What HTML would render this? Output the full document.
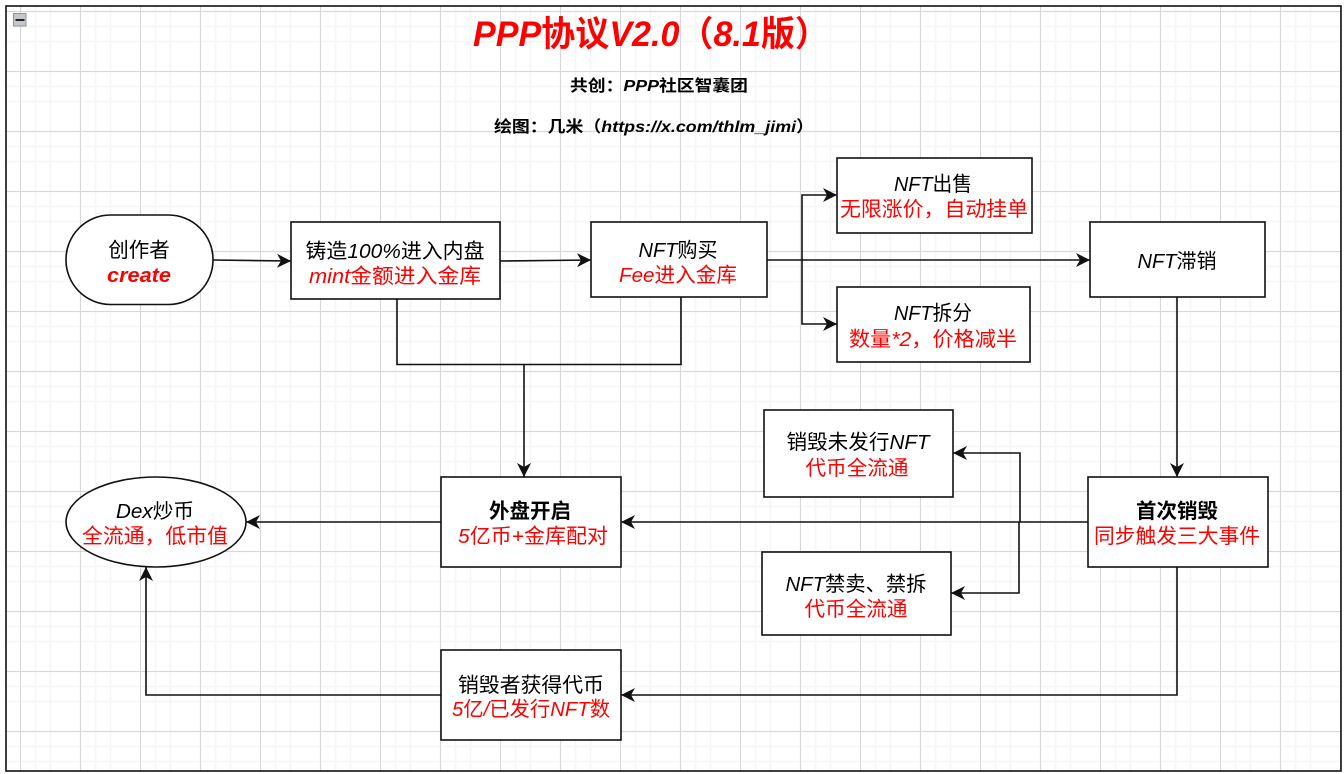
<!DOCTYPE html>
<html><head><meta charset="utf-8"><style>
html,body{margin:0;padding:0;background:#fff;width:1344px;height:774px;overflow:hidden}
svg{display:block}
text{font-family:"Liberation Sans","Noto Sans CJK SC",sans-serif;font-style:normal;text-anchor:middle;font-size:20.5px;fill:#000}
tspan.i{font-style:italic}
.r{fill:#f00}
.b{font-weight:bold}
.s{fill:#fff;stroke:#111;stroke-width:1.6}
.l{fill:none;stroke:#111;stroke-width:1.6}
</style></head><body>
<svg width="1344" height="774" viewBox="0 0 1344 774" xmlns="http://www.w3.org/2000/svg">
<defs>
<pattern id="g" x="5" y="-4" width="60" height="60" patternUnits="userSpaceOnUse">
<path d="M15.5 0V60M30.5 0V60M45.5 0V60M0 15.5H60M0 30.5H60M0 45.5H60" stroke="#f6f6f6" stroke-width="1.5" fill="none"/>
<path d="M15.5 0V60M0 15.5H60" stroke="#d8d8d8" stroke-width="1" fill="none"/>
</pattern>
<marker id="a" markerUnits="userSpaceOnUse" markerWidth="16" markerHeight="16" refX="14" refY="8" orient="auto"><path d="M0 1L14 8L0 15L4 8Z" fill="#111"/></marker>
</defs>
<rect width="1344" height="774" fill="#fff"/>
<rect x="6" y="6" width="1335" height="765" fill="url(#g)"/>
<rect x="6" y="6" width="1335" height="765" fill="none" stroke="#111" stroke-width="1.6"/>
<rect x="13.500" y="13.500" width="12.500" height="12.500" fill="#c4c8cc" stroke="#8a949c"/>
<rect x="15.500" y="19" width="9" height="2" fill="#222"/>

<path class="l" marker-end="url(#a)" d="M213 260L291 261"/>
<path class="l" marker-end="url(#a)" d="M500 261L591 260"/>
<path class="l" marker-end="url(#a)" d="M767 260H1090"/>
<path class="l" marker-end="url(#a)" d="M802 260V195H837"/>
<path class="l" marker-end="url(#a)" d="M802 260V324H837"/>
<path class="l" d="M397 299V364.500H681V297"/>
<path class="l" marker-end="url(#a)" d="M524 364.500V477"/>
<path class="l" marker-end="url(#a)" d="M1177 297V477"/>
<path class="l" marker-end="url(#a)" d="M1088 522H621"/>
<path class="l" marker-end="url(#a)" d="M441 522H246"/>
<path class="l" marker-end="url(#a)" d="M1020 522V453H953"/>
<path class="l" marker-end="url(#a)" d="M1019 522V593H951"/>
<path class="l" marker-end="url(#a)" d="M1177 567V695H621"/>
<path class="l" marker-end="url(#a)" d="M441 695H146V567"/>

<rect class="s" x="66" y="215" width="147" height="89.500" rx="44.500"/>
<rect class="s" x="291" y="222" width="209" height="77"/>
<rect class="s" x="591" y="222" width="176" height="75"/>
<rect class="s" x="837" y="158" width="195" height="75"/>
<rect class="s" x="837" y="287" width="193" height="75"/>
<rect class="s" x="1090" y="222" width="175" height="75"/>
<rect class="s" x="764" y="410" width="189" height="87"/>
<rect class="s" x="762" y="552" width="189" height="83"/>
<rect class="s" x="1088" y="477" width="180" height="90"/>
<rect class="s" x="441" y="477" width="180" height="90"/>
<ellipse class="s" cx="156" cy="522" rx="90" ry="45"/>
<rect class="s" x="441" y="650" width="180" height="90"/>

<text class="r b" x="651" y="46" style="font-size:35px" textLength="356" lengthAdjust="spacingAndGlyphs"><tspan class="i">PPP</tspan>协议<tspan class="i">V2.0</tspan>（<tspan class="i">8.1</tspan>版）</text>
<text class="b" x="659" y="91" style="font-size:16px" textLength="178" lengthAdjust="spacingAndGlyphs">共创：<tspan class="i">PPP</tspan>社区智囊团</text>
<text class="b" x="654" y="132" style="font-size:16px" textLength="320" lengthAdjust="spacingAndGlyphs">绘图：几米（<tspan class="i">https://x.com/thlm_jimi</tspan>）</text>

<text x="139" y="257">创作者</text>
<text class="r b" x="139" y="282" textLength="64" lengthAdjust="spacingAndGlyphs"><tspan class="i">create</tspan></text>
<text x="395" y="258" textLength="179" lengthAdjust="spacingAndGlyphs">铸造<tspan class="i">100%</tspan>进入内盘</text>
<text class="r" x="395" y="283" textLength="172" lengthAdjust="spacingAndGlyphs"><tspan class="i">mint</tspan>金额进入金库</text>
<text x="678" y="257" textLength="79" lengthAdjust="spacingAndGlyphs"><tspan class="i">NFT</tspan>购买</text>
<text class="r" x="678" y="282" textLength="118" lengthAdjust="spacingAndGlyphs"><tspan class="i">Fee</tspan>进入金库</text>
<text x="933" y="191" textLength="78" lengthAdjust="spacingAndGlyphs"><tspan class="i">NFT</tspan>出售</text>
<text class="r" x="934" y="216" textLength="188" lengthAdjust="spacingAndGlyphs">无限涨价，自动挂单</text>
<text x="933" y="320" textLength="78" lengthAdjust="spacingAndGlyphs"><tspan class="i">NFT</tspan>拆分</text>
<text class="r" x="933" y="346" textLength="168" lengthAdjust="spacingAndGlyphs">数量<tspan class="i">*2</tspan>，价格减半</text>
<text x="1177" y="268" textLength="79" lengthAdjust="spacingAndGlyphs"><tspan class="i">NFT</tspan>滞销</text>
<text x="858" y="449" textLength="143" lengthAdjust="spacingAndGlyphs">销毁未发行<tspan class="i">NFT</tspan></text>
<text class="r" x="857" y="475" textLength="103" lengthAdjust="spacingAndGlyphs">代币全流通</text>
<text x="856" y="591" textLength="141" lengthAdjust="spacingAndGlyphs"><tspan class="i">NFT</tspan>禁卖、禁拆</text>
<text class="r" x="856" y="616" textLength="103" lengthAdjust="spacingAndGlyphs">代币全流通</text>
<text class="b" x="1177" y="518">首次销毁</text>
<text class="r" x="1177" y="543" textLength="166" lengthAdjust="spacingAndGlyphs">同步触发三大事件</text>
<text class="b" x="530" y="518">外盘开启</text>
<text class="r" x="533" y="543" textLength="150" lengthAdjust="spacingAndGlyphs"><tspan class="i">5</tspan>亿币<tspan class="i">+</tspan>金库配对</text>
<text x="155" y="518" textLength="78" lengthAdjust="spacingAndGlyphs"><tspan class="i">Dex</tspan>炒币</text>
<text class="r" x="155" y="543" textLength="146" lengthAdjust="spacingAndGlyphs">全流通，低市值</text>
<text x="531" y="692" textLength="146" lengthAdjust="spacingAndGlyphs">销毁者获得代币</text>
<text class="r" x="531" y="716" textLength="158" lengthAdjust="spacingAndGlyphs"><tspan class="i">5</tspan>亿<tspan class="i">/</tspan>已发行<tspan class="i">NFT</tspan>数</text>
</svg>
</body></html>
